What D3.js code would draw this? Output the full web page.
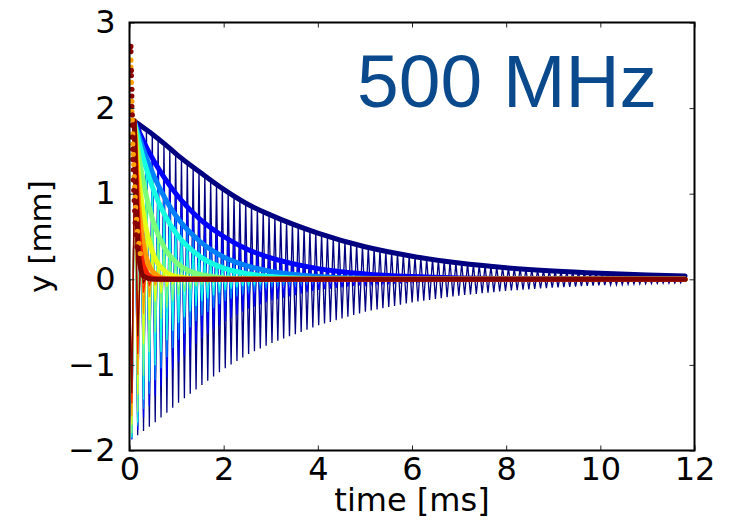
<!DOCTYPE html>
<html>
<head>
<meta charset="utf-8">
<script src="https://cdn.jsdelivr.net/npm/d3@7"></script>
<style>
  body { margin: 0; background: #fff; }
  svg { display: block; }
  .tick text { font-family: "DejaVu Sans", sans-serif; font-size: 32px; fill: #000; }
</style>
</head>
<body>
<div id="chart"></div>
<script>
// envelope sample times [ms] and envelope values [mm]
var envT = [0.1, 0.2, 0.3, 0.5, 0.75, 1, 1.5, 2, 2.5, 3, 4, 5, 6, 7, 8, 9, 10, 11, 11.8];
var navyEnv    = [1.85, 1.81, 1.77, 1.69, 1.58, 1.46, 1.25, 1.05, 0.88, 0.75, 0.54, 0.38, 0.27, 0.19, 0.135, 0.097, 0.07, 0.05, 0.04];
var blueEnv    = [1.85, 1.73, 1.61, 1.40, 1.18, 0.99, 0.70, 0.50, 0.35, 0.25, 0.125, 0.063, 0.032, 0.016, 0.008, 0.005, 0.003, 0.002, 0.001];
var azureEnv   = [1.85, 1.67, 1.51, 1.23, 0.95, 0.73, 0.44, 0.26, 0.156, 0.093, 0.033, 0.012, 0.004, 0.002, 0.001, 0, 0, 0, 0];
var cyanEnv    = [1.85, 1.61, 1.40, 1.06, 0.75, 0.53, 0.265, 0.13, 0.066, 0.033, 0.008, 0.002, 0, 0, 0, 0, 0, 0, 0];
var greenEnv   = [1.85, 1.44, 1.12, 0.68, 0.36, 0.195, 0.056, 0.016, 0.005, 0.001, 0, 0, 0, 0, 0, 0, 0, 0, 0];
var yellowEnv  = [1.85, 1.17, 0.75, 0.30, 0.097, 0.031, 0.003, 0, 0, 0, 0, 0, 0, 0, 0, 0, 0, 0, 0];
var orangeEnv  = [1.85, 0.86, 0.40, 0.085, 0.01, 0.002, 0, 0, 0, 0, 0, 0, 0, 0, 0, 0, 0, 0, 0];
var redEnv     = [1.85, 0.53, 0.15, 0.013, 0.001, 0, 0, 0, 0, 0, 0, 0, 0, 0, 0, 0, 0, 0, 0];
var darkredEnv = [1.85, 0.25, 0.034, 0.001, 0, 0, 0, 0, 0, 0, 0, 0, 0, 0, 0, 0, 0, 0, 0];

var seriesEnv = [navyEnv, blueEnv, azureEnv, cyanEnv, greenEnv, yellowEnv, orangeEnv, redEnv, darkredEnv];
var seriesColors = ["#000080", "#0000ff", "#0080ff", "#15ffe2", "#7bff7b", "#e2ff15", "#ff9700", "#ff2000", "#800000"];
// depth of the first downward swing of each trace
var firstDip = [-1.85, -1.87, -1.86, -1.85, -1.8, -1.7, -1.6, -1.45, -1.33];

// oscillation: first minimum and period [ms]
var oscStart = 0.05;
var oscPeriod = 0.124;
var oscEnd = 11.8;

// marker dots along the left edge
var darkDotT = [0.03, 0.03, 0.04, 0.04, 0.05, 0.05, 0.05, 0.06, 0.06, 0.06, 0.07, 0.07, 0.08, 0.08, 0.09, 0.10, 0.11, 0.12, 0.14, 0.16, 0.19];
var darkDotY = [2.72, 2.66, 2.44, 2.38, 2.22, 2.14, 2.02, 1.92, 1.80, 1.66, 1.52, 1.40, 1.28, 1.16, 1.04, 0.92, 0.80, 0.66, 0.52, 0.38, 0.24];
var orangeDotT = [0.03, 0.03, 0.04, 0.05, 0.05, 0.06, 0.07, 0.07, 0.08, 0.09, 0.10, 0.11, 0.12, 0.13, 0.15, 0.17, 0.20, 0.23];
var orangeDotY = [2.56, 2.48, 2.30, 2.08, 1.96, 1.86, 1.70, 1.58, 1.46, 1.34, 1.20, 1.08, 0.96, 0.84, 0.70, 0.56, 0.42, 0.30];

var xTicks = [0, 2, 4, 6, 8, 10, 12];
var yTicks = [-2, -1, 0, 1, 2, 3];

var width = 732, height = 520;
var plotLeft = 129.5, plotRight = 694.5, plotTop = 22.5, plotBottom = 450.5;

var svg = d3.select("#chart").append("svg")
    .attr("width", width)
    .attr("height", height);

var x = d3.scaleLinear().domain([0, 12]).range([plotLeft, plotRight]);
var y = d3.scaleLinear().domain([-2, 3]).range([plotBottom, plotTop]);

svg.append("clipPath").attr("id", "plotclip")
  .append("rect")
    .attr("x", plotLeft).attr("y", plotTop)
    .attr("width", plotRight - plotLeft).attr("height", plotBottom - plotTop);

var plot = svg.append("g").attr("clip-path", "url(#plotclip)");

// oscillating traces, alternating swings bounded by each envelope
seriesEnv.forEach(function(env, i) {
    var envScale = d3.scaleLinear().domain(envT).range(env).clamp(true);
    var pts = [[0, 0]];
    for (var k = 0; oscStart + k * oscPeriod / 2 <= oscEnd; k++) {
        var t = oscStart + k * oscPeriod / 2;
        var v = k == 0 ? firstDip[i] : (k % 2 == 0 ? -1 : 1) * envScale(t);
        pts.push([t, v]);
    }
    plot.append("path")
        .datum(pts)
        .attr("fill", "none")
        .attr("stroke", seriesColors[i])
        .attr("stroke-width", 1.3)
        .attr("d", d3.line().x(d => x(d[0])).y(d => y(d[1])));
});

// thick envelope lines
var envLine = d3.line()
    .x(d => x(d[0]))
    .y(d => y(d[1]))
    .curve(d3.curveMonotoneX);

seriesEnv.forEach(function(env, i) {
    plot.append("path")
        .datum(envT.map((t, j) => [t, env[j]]))
        .attr("fill", "none")
        .attr("stroke", seriesColors[i])
        .attr("stroke-width", 5)
        .attr("stroke-linecap", "round")
        .attr("d", envLine);
});

// dots
plot.selectAll("circle.orange")
    .data(orangeDotT)
    .enter().append("circle")
    .attr("class", "orange")
    .attr("cx", d => x(d))
    .attr("cy", (d, i) => y(orangeDotY[i]))
    .attr("r", 2.6)
    .attr("fill", "#ffa000");

plot.selectAll("circle.dark")
    .data(darkDotT)
    .enter().append("circle")
    .attr("class", "dark")
    .attr("cx", d => x(d))
    .attr("cy", (d, i) => y(darkDotY[i]))
    .attr("r", 2.6)
    .attr("fill", "#8b0000");

// axes, ticks inside on all four sides
var fmt = d3.format("d");
svg.append("g")
    .attr("transform", "translate(0," + plotBottom + ")")
    .call(d3.axisBottom(x).tickValues(xTicks).tickFormat(fmt).tickSize(-5).tickPadding(7));
svg.append("g")
    .attr("transform", "translate(0," + plotTop + ")")
    .call(d3.axisTop(x).tickValues(xTicks).tickFormat("").tickSize(-5));
svg.append("g")
    .attr("transform", "translate(" + plotLeft + ",0)")
    .call(d3.axisLeft(y).tickValues(yTicks).tickFormat(fmt).tickSize(-5).tickPadding(14));
svg.append("g")
    .attr("transform", "translate(" + plotRight + ",0)")
    .call(d3.axisRight(y).tickValues(yTicks).tickFormat("").tickSize(-5));

svg.selectAll(".domain").remove();
svg.selectAll(".tick line").attr("stroke", "#222").attr("stroke-width", 1);

svg.append("rect")
    .attr("x", plotLeft).attr("y", plotTop)
    .attr("width", plotRight - plotLeft).attr("height", plotBottom - plotTop)
    .attr("fill", "none")
    .attr("stroke", "#000")
    .attr("stroke-width", 2);

// labels
svg.append("text")
    .attr("x", (plotLeft + plotRight) / 2)
    .attr("y", 511)
    .attr("text-anchor", "middle")
    .style("font-family", "DejaVu Sans, sans-serif")
    .style("font-size", "32px")
    .text("time [ms]");

svg.append("text")
    .attr("transform", "translate(51," + (plotTop + plotBottom) / 2 + ") rotate(-90)")
    .attr("text-anchor", "middle")
    .style("font-family", "DejaVu Sans, sans-serif")
    .style("font-size", "31px")
    .text("y [mm]");

svg.append("text")
    .attr("x", 357)
    .attr("y", 107)
    .style("font-family", "Liberation Sans, Arial, sans-serif")
    .style("font-size", "75px")
    .attr("fill", "#0a4a8c")
    .text("500 MHz");
</script>
</body>
</html>
